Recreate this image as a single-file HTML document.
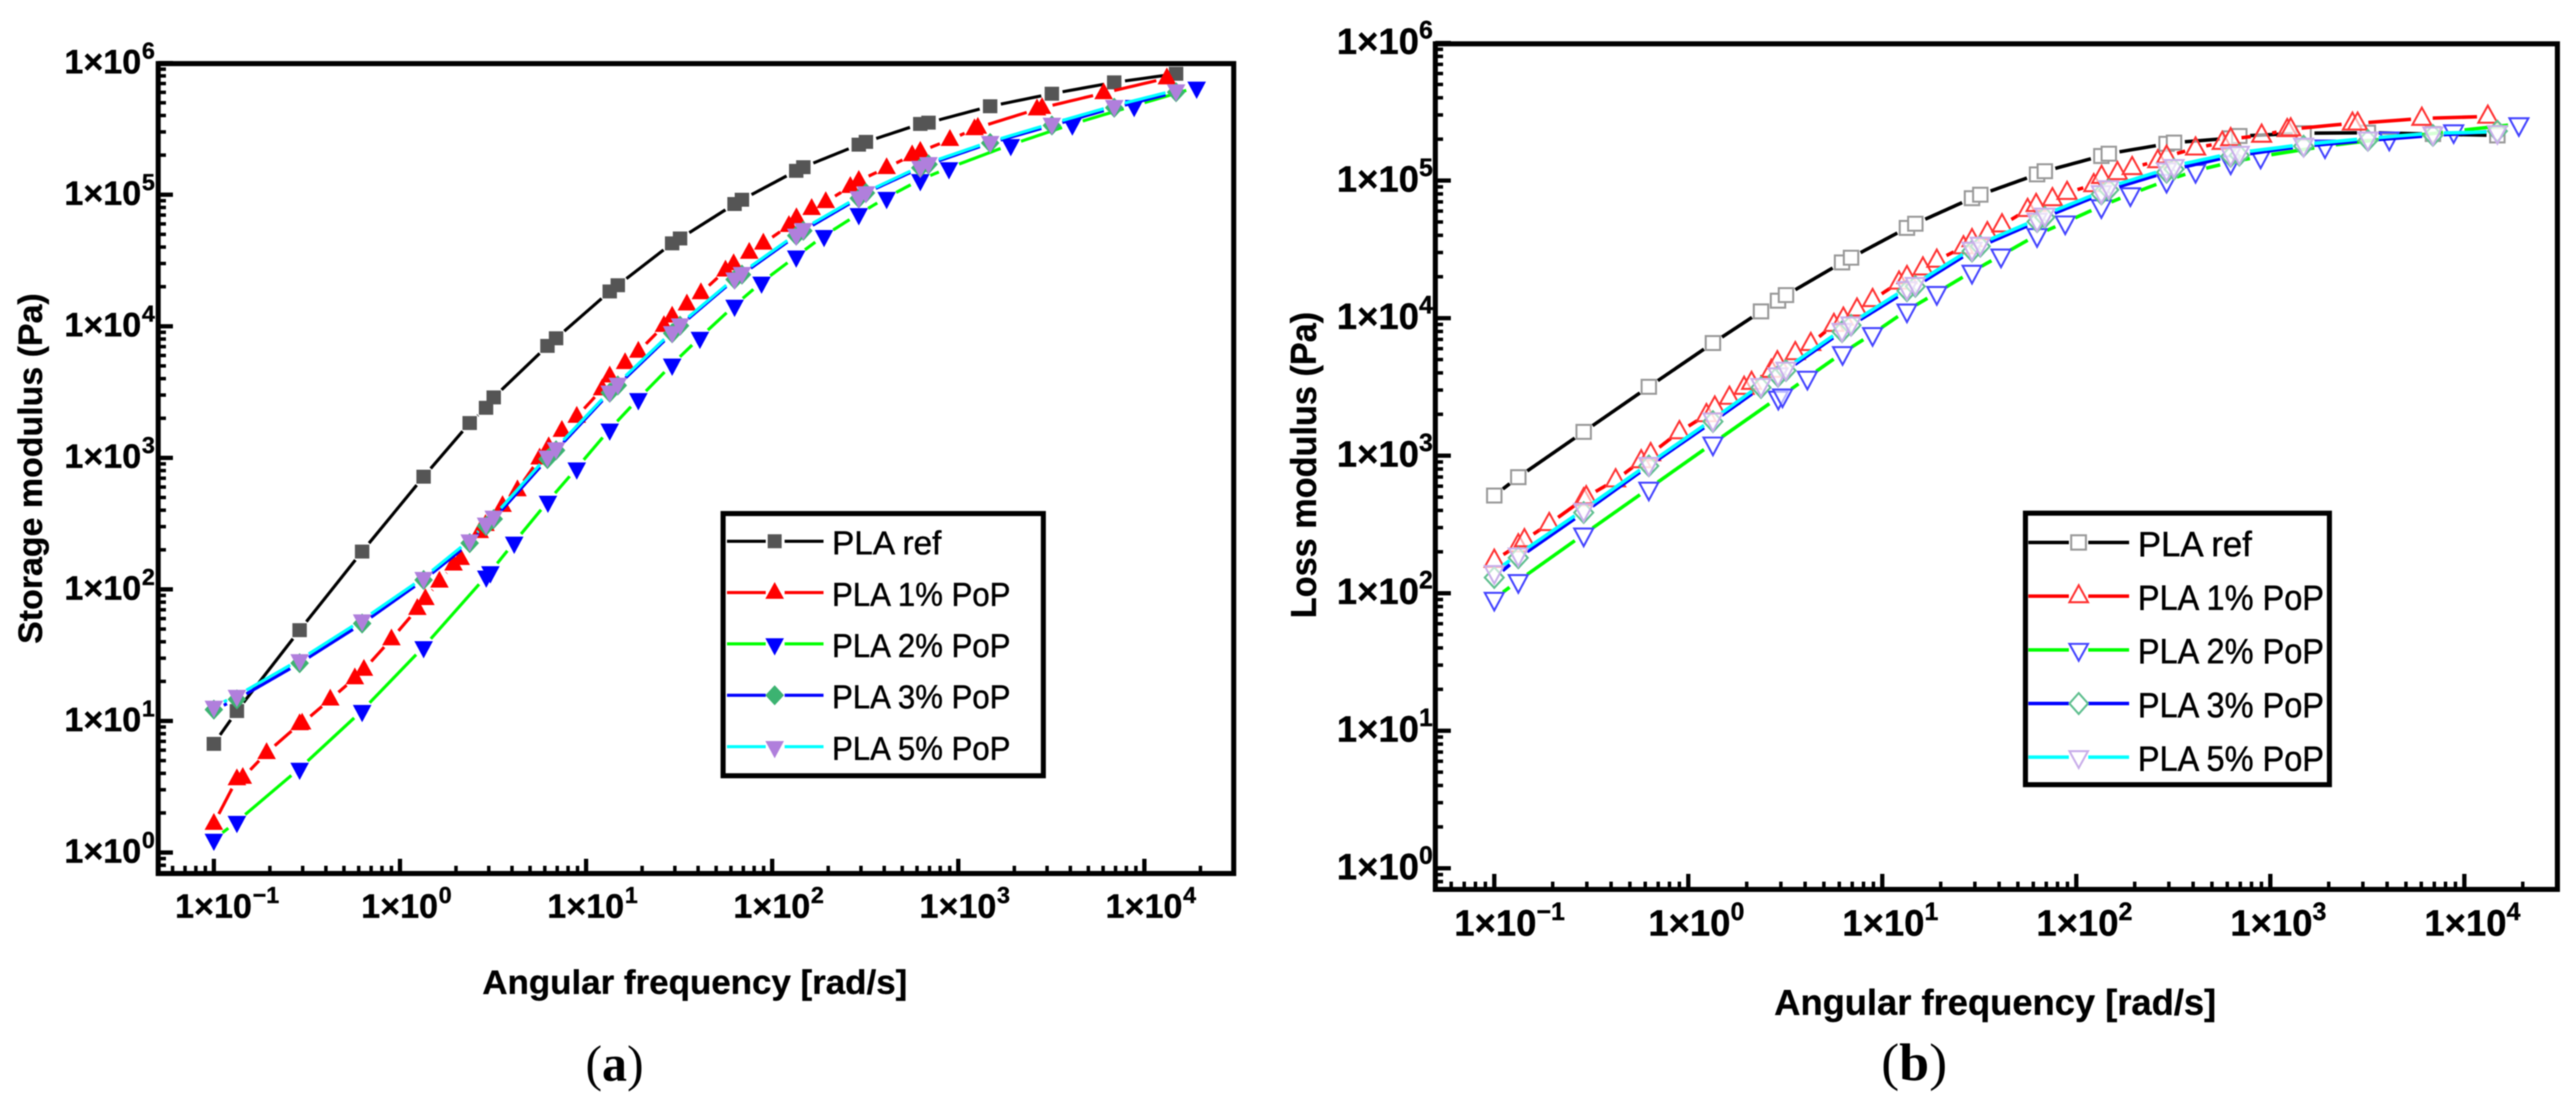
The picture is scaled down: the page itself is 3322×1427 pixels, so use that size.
<!DOCTYPE html>
<html lang="en">
<head>
<meta charset="utf-8">
<title>Storage and loss modulus of PLA with PoP</title>
<style>
  html, body { margin: 0; padding: 0; background: #fff; }
  body { width: 3322px; height: 1427px; overflow: hidden; }
  #figure { display: block; filter: blur(0.7px); }
  .axis-title { font-family: "Liberation Sans", sans-serif; font-weight: bold; fill: #000; stroke: #000; stroke-width: 0.4px; }
  .legend-text { font-family: "Liberation Sans", sans-serif; fill: #000; stroke: #000; stroke-width: 0.6px; }
  .tick-label { font-family: "Liberation Sans", sans-serif; font-weight: bold; fill: #000; stroke: #000; stroke-width: 0.5px; }
  .caption { font-family: "Liberation Serif", serif; fill: #000; }
</style>
</head>
<body>
<svg id="figure" xmlns="http://www.w3.org/2000/svg" width="3322" height="1427" viewBox="0 0 3322 1427">
  <rect x="0" y="0" width="3322" height="1427" fill="#fff"/>

  <!-- Panel a -->
  <g id="panel-a">
    <g id="panel-a-plot"></g>
    <rect x="204" y="82" width="1387" height="1044" fill="none" stroke="#000" stroke-width="6.5"/>
    <g id="panel-a-ticks"></g>
    <text class="axis-title" x="622" y="1281" font-size="44" textLength="548" lengthAdjust="spacingAndGlyphs">Angular frequency [rad/s]</text>
    <text class="axis-title" transform="translate(54 830) rotate(-90)" font-size="44" textLength="452" lengthAdjust="spacingAndGlyphs">Storage modulus (Pa)</text>
    <g>
      <rect x="932.5" y="662" width="413" height="338" fill="#fff" stroke="#000" stroke-width="6.5"/>
      <g>
        <path d="M937.5 697.7H987.5M1011.8 697.7H1062" stroke="#000" stroke-width="4" fill="none"/>
        <rect x="990" y="688.7" width="18" height="18" fill="#555"/>
        <text class="legend-text" x="1073" y="714.7" font-size="43" textLength="141" lengthAdjust="spacingAndGlyphs">PLA ref</text>
      </g>
      <g>
        <path d="M937.5 763.9H987.5M1011.8 763.9H1062" stroke="#f00" stroke-width="4" fill="none"/>
        <polygon points="999,750.2 1011,771.9 987,771.9" fill="#f00"/>
        <text class="legend-text" x="1073" y="780.9" font-size="43" textLength="230" lengthAdjust="spacingAndGlyphs">PLA 1% PoP</text>
      </g>
      <g>
        <path d="M937.5 830H987.5M1011.8 830H1062" stroke="#0f0" stroke-width="4" fill="none"/>
        <polygon points="987,822.7 1011,822.7 999,845" fill="#00f"/>
        <text class="legend-text" x="1073" y="847" font-size="43" textLength="230" lengthAdjust="spacingAndGlyphs">PLA 2% PoP</text>
      </g>
      <g>
        <path d="M937.5 896.2H987.5M1011.8 896.2H1062" stroke="#00f" stroke-width="4" fill="none"/>
        <polygon points="999,883.2 1011,896.2 999,909.2 987,896.2" fill="#3cb371"/>
        <text class="legend-text" x="1073" y="913.2" font-size="43" textLength="230" lengthAdjust="spacingAndGlyphs">PLA 3% PoP</text>
      </g>
      <g>
        <path d="M937.5 962.5H987.5M1011.8 962.5H1062" stroke="#0ff" stroke-width="4" fill="none"/>
        <polygon points="987,955.2 1011,955.2 999,977.5" fill="#b07fdc"/>
        <text class="legend-text" x="1073" y="979.5" font-size="43" textLength="230" lengthAdjust="spacingAndGlyphs">PLA 5% PoP</text>
      </g>
    </g>
    <text class="caption" x="755" y="1393" font-size="66" textLength="75" lengthAdjust="spacingAndGlyphs">(<tspan font-weight="bold">a</tspan>)</text>
  </g>

  <!-- Panel b -->
  <g id="panel-b">
    <g id="panel-b-plot"></g>
    <rect x="1851" y="56.5" width="1447" height="1090" fill="none" stroke="#000" stroke-width="6.5"/>
    <g id="panel-b-ticks"></g>
    <text class="axis-title" x="2288" y="1308" font-size="46" textLength="570" lengthAdjust="spacingAndGlyphs">Angular frequency [rad/s]</text>
    <text class="axis-title" transform="translate(1697 797) rotate(-90)" font-size="46" textLength="395" lengthAdjust="spacingAndGlyphs">Loss modulus (Pa)</text>
    <g>
      <rect x="2612" y="661.5" width="392" height="350" fill="#fff" stroke="#000" stroke-width="6.5"/>
      <g>
        <path d="M2615.7 699.3H2668M2693 699.3H2745.7" stroke="#000" stroke-width="4.5" fill="none"/>
        <rect x="2671" y="690" width="19" height="18.5" fill="#fff" stroke="#999" stroke-width="2.6"/>
        <text class="legend-text" x="2757" y="716.8" font-size="45" textLength="147" lengthAdjust="spacingAndGlyphs">PLA ref</text>
      </g>
      <g>
        <path d="M2615.7 768.5H2668M2693 768.5H2745.7" stroke="#f00" stroke-width="4.5" fill="none"/>
        <polygon points="2680.7,754.5 2692.7,776.3 2668.7,776.3" fill="#fff" stroke="#f33" stroke-width="2.6"/>
        <text class="legend-text" x="2757" y="786" font-size="45" textLength="240" lengthAdjust="spacingAndGlyphs">PLA 1% PoP</text>
      </g>
      <g>
        <path d="M2615.7 837.7H2668M2693 837.7H2745.7" stroke="#0f0" stroke-width="4.5" fill="none"/>
        <polygon points="2668.7,830 2692.7,830 2680.7,851.7" fill="#fff" stroke="#44f" stroke-width="2.6"/>
        <text class="legend-text" x="2757" y="855.2" font-size="45" textLength="240" lengthAdjust="spacingAndGlyphs">PLA 2% PoP</text>
      </g>
      <g>
        <path d="M2615.7 906.9H2668M2693 906.9H2745.7" stroke="#00f" stroke-width="4.5" fill="none"/>
        <polygon points="2680.7,893.4 2692.7,906.9 2680.7,920.4 2668.7,906.9" fill="#fff" stroke="#5fbf8f" stroke-width="2.6"/>
        <text class="legend-text" x="2757" y="924.4" font-size="45" textLength="240" lengthAdjust="spacingAndGlyphs">PLA 3% PoP</text>
      </g>
      <g>
        <path d="M2615.7 976H2668M2693 976H2745.7" stroke="#0ff" stroke-width="4.5" fill="none"/>
        <polygon points="2668.7,968.3 2692.7,968.3 2680.7,990" fill="#fff" stroke="#c9aeea" stroke-width="2.6"/>
        <text class="legend-text" x="2757" y="993.5" font-size="45" textLength="240" lengthAdjust="spacingAndGlyphs">PLA 5% PoP</text>
      </g>
    </g>
    <text class="caption" x="2426" y="1392" font-size="68" textLength="85" lengthAdjust="spacingAndGlyphs">(<tspan font-weight="bold">b</tspan>)</text>
  </g>
</svg>

<script>
// ---- Data ----
const freqCommon = [0.1,0.133,0.289,0.626,1.34,2.37,2.9,3.19,6.2,6.9,13.4,14.8,29,32,62.8,68.8,134.6,147,292,319,625,692,1484,3184,6887,14800];
const freqPoP1 = [0.1,0.133,0.143,0.192,0.289,0.298,0.422,0.572,0.64,0.9,1.24,1.37,1.63,1.94,2.12,2.68,2.88,3.56,4.28,5.63,6.3,7.41,8.91,12.2,13.4,16.2,19.1,26.2,29,34.8,41.4,56.1,62.1,75.3,89.6,123,135,163,194,263,292,412,565,625,902,1222,1274,2649,2818,6039,13213];
const freqPoP2 = [0.1,0.133,0.289,0.626,1.34,2.91,3.06,4.11,6.24,8.91,13.4,19.1,29,40.9,62.8,87.7,134.6,190,292,412,625,891,1914,4102,8810,19100];

const storageRef = [6.7,11.9,49,194,719,1840,2400,2880,7090,8100,18400,20500,42700,46500,85000,91500,152000,162000,240000,252000,345000,353000,470000,586000,714000,830000];
const storagePoP1 = [1.66,3.62,3.71,5.72,9.5,9.6,14.6,21.2,24.6,41.9,71.3,84.7,115,155,171,274,310,433,569,993,1210,1610,2060,3330,4170,5270,6430,10100,11900,14700,17900,26600,29800,36300,42700,58100,66500,78200,88300,115000,128000,160000,200000,213000,262000,316000,324000,447000,458000,593000,769000];
const storagePoP2 = [1.26,1.72,4.36,12,36.6,126,136,228,467,836,1650,2810,5140,8220,14400,21600,34100,48800,71600,95100,130000,160000,240000,344000,475000,655000];
const storagePoP3 = [12.2,14.6,27.5,55,118,225,303,343,980,1140,3130,3550,8850,10100,22700,24700,48800,53200,94000,103000,160000,170000,247000,336000,458000,601000];
const storagePoP5 = [12.9,15.6,29.2,58.5,123,237,318,360,1030,1190,3210,3680,9080,10400,23200,25600,50000,55200,96400,105000,164000,175000,253000,348000,475000,624000];

const lossRef = [513,698,1490,3170,6590,11200,13400,14700,25400,27500,45300,48600,74500,78900,111000,117000,151000,157000,185000,189000,203000,211000,221000,223000,218000,213000];
const lossPoP1 = [173,224,244,320,484,501,665,916,1030,1490,1980,2250,2650,3130,3400,4160,4800,5590,6520,8970,9970,11600,13600,18200,20000,23100,26300,32900,37100,41700,47500,61500,66800,73600,81800,93100,107000,114000,124000,139000,150000,172000,189000,201000,213000,234000,237000,261000,261000,283000,293000];
const lossPoP2 = [91.4,123,268,578,1230,2650,2750,3700,5590,7690,11400,15300,21800,28600,40300,49800,65300,79800,100000,118000,136000,150000,178000,203000,229000,258000];
const lossPoP3 = [130,181,386,843,1770,3130,3780,4160,7970,8870,15800,17000,30700,33300,50300,54100,79800,85700,115000,121000,150000,153000,178000,196000,213000,229000];
const lossPoP5 = [143,192,405,874,1840,3280,3920,4310,8260,9180,16600,17800,32100,34900,52200,56800,82800,89900,121000,128000,157000,160000,183000,203000,221000,226000];

const xTickExponents = [-1,0,1,2,3,4];
const xTickSuperscripts = ['\u22121','0','1','2','3','4'];
const yTickExponents = [0,1,2,3,4,5,6];
const yTickSuperscripts = ['0','1','2','3','4','5','6'];
const minorMultipliers = [2,3,4,5,6,7,8,9];

// ---- Drawing ----
const NS = 'http://www.w3.org/2000/svg';

function make(tag, attrs) {
  const el = document.createElementNS(NS, tag);
  for (const k in attrs) el.setAttribute(k, attrs[k]);
  return el;
}

function markerPoints(shape, cx, cy, k) {
  let pts;
  if (shape === 'up') pts = [[0,-13.7],[12,8],[-12,8]];
  else if (shape === 'down') pts = [[-12,-7.3],[12,-7.3],[0,15]];
  else pts = [[0,-13],[12,0],[0,13],[-12,0]];
  return pts.map(p => (cx + p[0]*k).toFixed(1) + ',' + (cy + p[1]*k).toFixed(1)).join(' ');
}

function drawPanel(p, series) {
  const xScale = v => p.x0 + p.xDecade * Math.log10(v);
  const yScale = v => p.y0 - p.yDecade * Math.log10(v);
  const plot = document.getElementById(p.plotId);
  const ticks = document.getElementById(p.ticksId);

  series.forEach(s => {
    const px = s.freq.map(xScale);
    const py = s.values.map(yScale);
    let d = '';
    for (let i = 0; i + 1 < px.length; i++) {
      const dx = px[i+1] - px[i], dy = py[i+1] - py[i];
      const len = Math.hypot(dx, dy);
      if (len > 2 * p.gap) {
        const ux = dx / len, uy = dy / len;
        d += 'M' + (px[i] + ux * p.gap).toFixed(1) + ' ' + (py[i] + uy * p.gap).toFixed(1);
        d += 'L' + (px[i+1] - ux * p.gap).toFixed(1) + ' ' + (py[i+1] - uy * p.gap).toFixed(1);
      }
    }
    const line = make('path', { d: d, fill: 'none', stroke: s.line, 'stroke-width': p.lineWidth });
    
    
    plot.appendChild(line);
    px.forEach((cx, i) => {
      const cy = py[i];
      let m;
      if (s.shape === 'square') {
        m = make('rect', { x: (cx - 9.3).toFixed(1), y: (cy - 9).toFixed(1), width: 18.6, height: 18 });
      } else {
        m = make('polygon', { points: markerPoints(s.shape, cx, cy, p.hollow ? 1.02 : 1) });
      }
      if (p.hollow) {
        m.setAttribute('fill', '#fff');
        m.setAttribute('fill-opacity', s.shape === 'square' ? '1' : '0.6');
        m.setAttribute('stroke', s.marker);
        m.setAttribute('stroke-width', '2.6');
      } else {
        m.setAttribute('fill', s.marker);
      }
      
      
      plot.appendChild(m);
    });
  });

  function tick(x1, y1, x2, y2, w, name) {
    const t = make('line', { x1: x1, y1: y1, x2: x2, y2: y2, stroke: '#000', 'stroke-width': w });
    
    
    ticks.appendChild(t);
  }

  function label(x, y, sup, name) {
    const t = make('text', { 'class': 'tick-label', 'font-size': p.labelSize });
    
    
    const a = make('tspan', { x: x, y: y });
    a.textContent = '1\u00d710';
    const b = make('tspan', { x: x + p.labelWidth, y: y - p.supRise, 'font-size': p.supSize });
    b.textContent = sup;
    t.appendChild(a);
    t.appendChild(b);
    ticks.appendChild(t);
  }

  for (let e = -2; e <= 5; e++) {
    minorMultipliers.forEach(m => {
      const x = xScale(m * Math.pow(10, e));
      if (x > p.left + 4 && x < p.right - 4) tick(x, p.bottom, x, p.bottom - p.minorLen, 4.5, p.prefix + '-x-minor-tick');
    });
  }
  for (let e = -1; e <= 5; e++) {
    minorMultipliers.forEach(m => {
      const y = yScale(m * Math.pow(10, e));
      if (y > p.top + 4 && y < p.bottom - 4) tick(p.left, y, p.left + p.minorLen, y, 4.5, p.prefix + '-y-minor-tick');
    });
  }
  xTickExponents.forEach((e, i) => {
    const x = xScale(Math.pow(10, e));
    tick(x, p.bottom, x, p.bottom - p.majorLen, 5.5, p.prefix + '-x-major-tick');
    label(x - p.xLabelOffset, p.xLabelY, xTickSuperscripts[i], p.prefix + '-x-tick-label');
  });
  yTickExponents.forEach((e, i) => {
    const y = yScale(Math.pow(10, e));
    tick(p.left, y, p.left + p.majorLen, y, 5.5, p.prefix + '-y-major-tick');
    label(p.yLabelX, y + p.yLabelDrop, yTickSuperscripts[i], p.prefix + '-y-tick-label');
  });
}

drawPanel({
  prefix: 'storage', plotId: 'panel-a-plot', ticksId: 'panel-a-ticks',
  x0: 515.8, xDecade: 240, y0: 1099, yDecade: 169.6,
  left: 204, right: 1591, top: 82, bottom: 1126,
  gap: 14, lineWidth: 4, hollow: false,
  majorLen: 19, minorLen: 10,
  labelSize: 44, labelWidth: 100, supSize: 30, supRise: 19,
  xLabelOffset: 50, xLabelY: 1183, yLabelX: 83, yLabelDrop: 13
}, [
  { key: 'pla-ref', shape: 'square', line: '#000', marker: '#555', freq: freqCommon, values: storageRef },
  { key: 'pla-1pct', shape: 'up', line: '#f00', marker: '#f00', freq: freqPoP1, values: storagePoP1 },
  { key: 'pla-2pct', shape: 'down', line: '#0f0', marker: '#00f', freq: freqPoP2, values: storagePoP2 },
  { key: 'pla-3pct', shape: 'diamond', line: '#00f', marker: '#3cb371', freq: freqCommon, values: storagePoP3 },
  { key: 'pla-5pct', shape: 'down', line: '#0ff', marker: '#b07fdc', freq: freqCommon, values: storagePoP5 }
]);

drawPanel({
  prefix: 'loss', plotId: 'panel-b-plot', ticksId: 'panel-b-ticks',
  x0: 2177.2, xDecade: 250.2, y0: 1119.3, yDecade: 177.3,
  left: 1851, right: 3298, top: 56.5, bottom: 1146.5,
  gap: 14, lineWidth: 4.5, hollow: true,
  majorLen: 20, minorLen: 10,
  labelSize: 47, labelWidth: 106, supSize: 32, supRise: 20,
  xLabelOffset: 51.5, xLabelY: 1206, yLabelX: 1724, yLabelDrop: 14
}, [
  { key: 'pla-ref', shape: 'square', line: '#000', marker: '#999', freq: freqCommon, values: lossRef },
  { key: 'pla-1pct', shape: 'up', line: '#f00', marker: '#f33', freq: freqPoP1, values: lossPoP1 },
  { key: 'pla-2pct', shape: 'down', line: '#0f0', marker: '#44f', freq: freqPoP2, values: lossPoP2 },
  { key: 'pla-3pct', shape: 'diamond', line: '#00f', marker: '#5fbf8f', freq: freqCommon, values: lossPoP3 },
  { key: 'pla-5pct', shape: 'down', line: '#0ff', marker: '#c9aeea', freq: freqCommon, values: lossPoP5 }
]);
</script>
</body>
</html>
